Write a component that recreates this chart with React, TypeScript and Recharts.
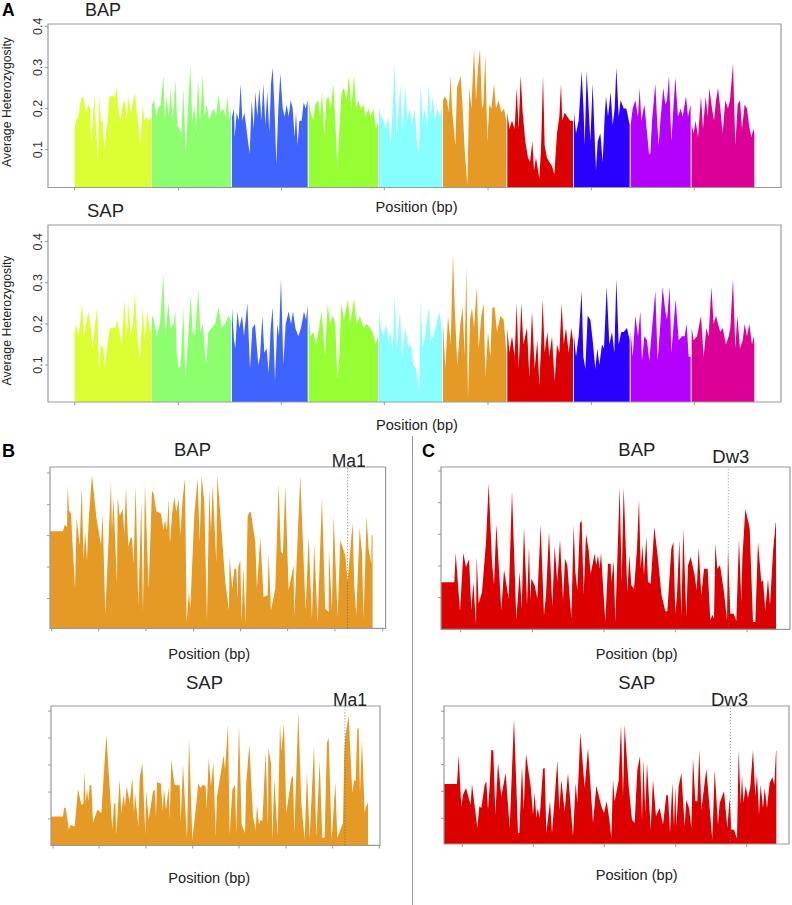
import React from "react";
import { ComposedChart, Area, XAxis, YAxis, ReferenceArea, ReferenceLine } from "recharts";

const chromColors = ["#DCFF33", "#8DFF6E", "#3E63FF", "#95FF33", "#88FFFF", "#E69A26", "#DC0000", "#2A00FF", "#B400FF", "#DC0096"];
const genomeTicks = [224, 535, 844, 1153, 1464, 1774, 2083];
const hetTicks = [0.1, 0.2, 0.3, 0.4];

const bapChr1 = [[224,.15],[228,.17],[235,.18],[240,.21],[246,.23],[252,.22],[258,.19],[265,.21],[270,.2],[274,.12],[278,.17],[284,.235],[288,.15],[294,.07],[297,.23],[303,.17],[308,.17],[313,.1],[318,.14],[323,.17],[328,.23],[345,.23],[350,.25],[355,.2],[362,.17],[368,.21],[375,.22],[380,.17],[386,.23],[392,.19],[397,.21],[405,.24],[410,.19],[415,.16],[421,.11],[428,.21],[433,.17],[440,.18],[446,.17],[454,.18]];
const bapChr2 = [[456,.21],[462,.22],[468,.18],[475,.2],[482,.21],[490,.28],[495,.17],[500,.23],[506,.18],[512,.25],[518,.17],[526,.27],[532,.16],[538,.15],[544,.14],[550,.25],[557,.09],[562,.17],[571,.305],[577,.17],[583,.21],[588,.14],[594,.275],[600,.17],[608,.28],[614,.18],[620,.21],[628,.17],[635,.19],[642,.2],[648,.18],[656,.235],[662,.19],[670,.2],[676,.18],[682,.23],[688,.17],[693,.2]];
const bapChr3 = [[696,.18],[702,.2],[704,.13],[710,.19],[716,.17],[722,.26],[727,.17],[733,.19],[738,.16],[744,.12],[749,.09],[755,.22],[761,.15],[766,.24],[772,.18],[778,.25],[784,.17],[790,.26],[796,.16],[802,.24],[808,.14],[813,.26],[818,.3],[824,.19],[829,.065],[835,.2],[841,.285],[848,.2],[854,.18],[860,.21],[866,.18],[872,.22],[878,.2],[884,.13],[888,.19],[893,.11],[898,.17],[905,.17],[911,.215],[917,.2],[923,.22]];
const bapChr4 = [[926,.22],[932,.19],[940,.17],[946,.21],[955,.22],[960,.18],[966,.24],[973,.13],[979,.22],[985,.23],[992,.2],[1000,.26],[1006,.17],[1012,.055],[1018,.15],[1025,.24],[1032,.25],[1040,.22],[1047,.28],[1054,.2],[1062,.28],[1068,.2],[1075,.22],[1082,.2],[1090,.21],[1097,.18],[1105,.2],[1112,.18],[1120,.2],[1128,.15],[1134,.17]];
const bapChr5 = [[1137,.2],[1143,.18],[1150,.17],[1158,.15],[1165,.18],[1172,.11],[1178,.2],[1184,.31],[1190,.13],[1196,.2],[1201,.26],[1207,.14],[1216,.25],[1222,.17],[1230,.2],[1236,.16],[1244,.2],[1250,.13],[1254,.09],[1258,.12],[1262,.26],[1268,.17],[1275,.2],[1281,.15],[1286,.26],[1292,.18],[1298,.23],[1305,.17],[1312,.2],[1320,.18],[1326,.21]];
const bapChr6 = [[1329,.22],[1334,.23],[1341,.22],[1346,.19],[1352,.28],[1356,.2],[1366,.11],[1371,.25],[1382,.28],[1388,.2],[1394,.1],[1402,.015],[1408,.25],[1414,.2],[1422,.345],[1428,.22],[1434,.3],[1440,.345],[1446,.2],[1450,.21],[1456,.33],[1462,.12],[1468,.21],[1474,.2],[1482,.26],[1488,.2],[1496,.22],[1504,.19],[1512,.2],[1519,.17]];
const bapChr7 = [[1522,.19],[1528,.15],[1536,.17],[1544,.15],[1550,.25],[1556,.15],[1562,.28],[1568,.19],[1576,.12],[1584,.08],[1590,.07],[1597,.12],[1602,.05],[1608,.08],[1614,.05],[1618,.03],[1623,.1],[1629,.28],[1634,.11],[1641,.08],[1648,.07],[1656,.06],[1663,.04],[1671,.14],[1678,.18],[1683,.26],[1687,.17],[1694,.19],[1702,.18],[1710,.17],[1719,.17]];
const bapChr8 = [[1722,.19],[1728,.14],[1736,.17],[1745,.29],[1751,.19],[1754,.11],[1760,.29],[1766,.2],[1771,.12],[1778,.26],[1783,.15],[1788,.05],[1793,.12],[1801,.14],[1808,.07],[1814,.18],[1818,.23],[1824,.18],[1832,.24],[1838,.16],[1844,.2],[1849,.3],[1856,.18],[1862,.22],[1871,.2],[1879,.2],[1884,.18],[1889,.16]];
const bapChr9 = [[1892,.16],[1898,.2],[1906,.22],[1914,.18],[1919,.25],[1924,.17],[1933,.21],[1939,.16],[1947,.09],[1951,.09],[1956,.17],[1966,.26],[1972,.16],[1976,.11],[1982,.18],[1990,.25],[1996,.21],[2001,.22],[2007,.28],[2014,.12],[2020,.2],[2026,.275],[2034,.18],[2042,.2],[2048,.18],[2058,.23],[2064,.18],[2072,.21]];
const bapChr10 = [[2075,.16],[2081,.14],[2087,.17],[2094,.13],[2103,.23],[2109,.15],[2117,.23],[2123,.18],[2128,.25],[2136,.2],[2142,.17],[2148,.22],[2154,.25],[2161,.2],[2168,.14],[2176,.22],[2184,.2],[2190,.22],[2199,.31],[2206,.11],[2213,.21],[2220,.22],[2226,.15],[2234,.21],[2241,.2],[2247,.16],[2254,.13],[2260,.15],[2263,.14]];

const sapChr1 = [[224,.18],[228,.2],[235,.17],[240,.2],[246,.25],[252,.17],[258,.2],[265,.23],[272,.19],[278,.14],[285,.2],[292,.24],[297,.09],[303,.15],[310,.14],[315,.09],[322,.15],[330,.19],[345,.19],[351,.21],[358,.18],[365,.15],[373,.26],[380,.17],[386,.25],[392,.17],[398,.2],[405,.275],[412,.17],[419,.11],[428,.24],[434,.16],[442,.23],[450,.18],[454,.2]];
const sapChr2 = [[456,.22],[462,.21],[470,.17],[480,.2],[490,.32],[496,.17],[505,.25],[512,.19],[520,.2],[526,.23],[530,.13],[536,.09],[542,.1],[550,.24],[556,.07],[562,.14],[572,.27],[578,.18],[585,.17],[595,.285],[601,.18],[608,.2],[618,.1],[625,.18],[635,.19],[645,.2],[656,.24],[665,.19],[675,.2],[685,.22],[693,.21]];
const sapChr3 = [[696,.24],[702,.16],[706,.14],[712,.23],[718,.19],[726,.22],[732,.17],[742,.25],[750,.09],[757,.19],[765,.2],[775,.1],[780,.12],[787,.22],[793,.13],[800,.14],[806,.08],[812,.19],[818,.24],[825,.06],[832,.2],[837,.17],[843,.31],[850,.1],[857,.2],[866,.23],[873,.2],[879,.23],[886,.19],[895,.17],[903,.19],[912,.23],[918,.21],[923,.245]];
const sapChr4 = [[926,.22],[932,.17],[940,.18],[948,.15],[955,.18],[965,.23],[975,.12],[983,.25],[990,.2],[998,.22],[1006,.2],[1012,.065],[1018,.12],[1024,.25],[1032,.21],[1044,.26],[1050,.2],[1062,.26],[1070,.2],[1080,.22],[1090,.19],[1100,.2],[1110,.19],[1118,.18],[1127,.15],[1134,.17]];
const sapChr5 = [[1137,.23],[1143,.19],[1150,.17],[1158,.2],[1165,.16],[1172,.18],[1178,.13],[1184,.27],[1190,.14],[1200,.23],[1206,.12],[1216,.19],[1225,.14],[1232,.15],[1240,.1],[1248,.09],[1258,.035],[1262,.26],[1268,.14],[1275,.17],[1286,.24],[1292,.16],[1300,.17],[1310,.2],[1318,.23],[1326,.18]];
const sapChr6 = [[1329,.2],[1336,.09],[1344,.22],[1352,.15],[1359,.37],[1364,.24],[1372,.1],[1381,.2],[1388,.24],[1394,.12],[1399,.34],[1404,.02],[1410,.21],[1416,.24],[1422,.19],[1430,.29],[1436,.14],[1444,.22],[1451,.25],[1456,.07],[1464,.18],[1471,.12],[1477,.24],[1484,.24],[1491,.18],[1501,.22],[1511,.21],[1519,.13]];
const sapChr7 = [[1522,.19],[1528,.13],[1536,.17],[1544,.12],[1550,.25],[1556,.09],[1564,.25],[1570,.15],[1581,.19],[1588,.07],[1596,.23],[1604,.09],[1612,.16],[1618,.05],[1624,.16],[1628,.26],[1634,.13],[1642,.18],[1648,.12],[1656,.17],[1664,.06],[1671,.15],[1678,.13],[1685,.25],[1691,.15],[1698,.19],[1706,.13],[1714,.19],[1719,.16]];
const sapChr8 = [[1722,.17],[1728,.12],[1736,.17],[1745,.28],[1750,.12],[1756,.09],[1763,.22],[1771,.21],[1778,.16],[1786,.09],[1792,.14],[1798,.1],[1806,.15],[1812,.14],[1820,.29],[1828,.15],[1836,.18],[1843,.13],[1849,.31],[1856,.15],[1864,.18],[1871,.18],[1881,.19],[1889,.16]];
const sapChr9 = [[1892,.18],[1898,.12],[1906,.22],[1914,.17],[1921,.23],[1926,.11],[1933,.17],[1941,.16],[1948,.11],[1954,.17],[1966,.28],[1973,.11],[1981,.2],[1988,.29],[1996,.23],[2001,.21],[2009,.29],[2014,.13],[2021,.2],[2027,.26],[2036,.16],[2046,.17],[2054,.17],[2060,.2],[2066,.12],[2072,.12]];
const sapChr10 = [[2075,.19],[2081,.16],[2091,.17],[2103,.22],[2111,.12],[2119,.19],[2126,.17],[2134,.29],[2141,.2],[2148,.22],[2154,.2],[2161,.18],[2168,.19],[2178,.15],[2186,.17],[2191,.19],[2199,.31],[2206,.14],[2212,.22],[2220,.14],[2228,.16],[2234,.2],[2241,.17],[2248,.2],[2256,.15],[2261,.17],[2263,.15]];

const ma1Bap = [[149,291],[188,291],[193,311],[200,304],[202,429],[206,354],[212,344],[224,119],[229,331],[238,249],[244,424],[250,204],[254,291],[260,204],[265,324],[275,459],[288,334],[302,249],[307,344],[315,44],[332,439],[335,289],[339,394],[344,279],[350,134],[352,394],[358,339],[362,344],[367,359],[372,284],[377,424],[384,244],[390,269],[395,274],[400,194],[406,429],[414,69],[423,379],[428,49],[434,432],[445,119],[455,414],[460,404],[468,351],[482,344],[490,294],[494,324],[500,294],[505,389],[509,254],[515,339],[522,394],[528,349],[535,389],[540,279],[547,389],[554,449],[559,19],[566,109],[570,59],[575,179],[582,339],[592,451],[598,259],[604,459],[612,379],[620,24],[627,414],[632,289],[637,431],[648,199],[651,459],[660,344],[675,139],[686,54],[688,214],[696,119],[702,179],[708,179],[712,89],[714,184],[720,204],[724,19],[729,184],[736,14],[742,334],[747,349],[752,347],[765,259],[770,119],[780,274],[790,94],[802,99],[805,224],[812,54],[825,119],[835,434],[842,229],[848,224],[855,429],[865,114],[880,189],[882,34],[900,457],[916,54],[925,274],[935,29],[942,249],[952,19],[965,394],[975,59],[985,49],[986,239],[995,54],[1000,341],[1012,34],[1020,264],[1035,219],[1042,139],[1057,317],[1062,129],[1068,39],[1078,301],[1085,229],[1090,29],[1099,337],[1105,239],[1113,194],[1114,279],[1117,279]];
const ma1Sap = [[154,87],[190,87],[193,113],[198,112],[208,47],[212,62],[225,57],[235,169],[245,122],[251,124],[254,222],[258,127],[262,169],[266,132],[270,182],[275,180],[280,69],[293,107],[305,97],[320,332],[338,47],[343,127],[347,124],[350,32],[360,200],[365,97],[372,152],[376,117],[381,177],[390,127],[398,202],[403,97],[406,157],[412,97],[416,57],[420,202],[428,247],[437,32],[439,167],[447,77],[460,162],[465,167],[469,87],[472,190],[484,185],[489,102],[493,170],[499,107],[507,174],[510,77],[515,259],[521,207],[525,182],[530,180],[540,180],[543,67],[550,242],[556,127],[562,22],[568,322],[578,17],[590,127],[596,187],[602,172],[610,182],[618,177],[621,107],[627,262],[634,177],[641,250],[648,27],[652,147],[672,270],[676,227],[685,364],[690,32],[698,167],[706,182],[710,37],[718,362],[726,62],[736,37],[740,192],[749,302],[760,87],[768,47],[772,120],[778,62],[782,77],[788,72],[798,280],[805,57],[806,292],[814,247],[818,17],[824,199],[834,27],[841,362],[845,282],[853,367],[860,97],[875,202],[880,207],[884,37],[896,399],[905,127],[915,17],[922,220],[930,22],[943,299],[950,27],[960,254],[968,22],[975,24],[982,309],[987,322],[996,17],[1007,189],[1013,22],[1030,67],[1034,282],[1037,327],[1040,347],[1047,389],[1058,157],[1064,197],[1068,192],[1073,349],[1077,352],[1081,157],[1087,317],[1095,97],[1098,112],[1105,129]];
const dw3Bap = [[109,141],[149,141],[153,229],[158,162],[166,54],[176,229],[184,187],[193,210],[200,57],[206,142],[214,14],[216,219],[222,77],[232,112],[244,262],[252,437],[262,202],[268,132],[275,315],[290,57],[298,179],[312,92],[322,415],[335,30],[345,172],[351,62],[358,307],[367,72],[373,249],[377,87],[380,152],[390,132],[398,92],[408,314],[418,42],[424,102],[433,292],[443,67],[450,249],[458,142],[466,270],[475,87],[481,212],[488,192],[500,32],[507,312],[512,172],[518,117],[526,320],[531,324],[537,104],[544,287],[552,237],[558,167],[570,227],[575,192],[580,222],[585,182],[589,230],[602,22],[610,197],[618,197],[620,142],[627,204],[632,22],[645,427],[651,142],[657,427],[668,112],[674,222],[680,132],[688,122],[697,242],[703,390],[708,182],[713,252],[718,162],[725,277],[730,142],[738,137],[749,307],[760,212],[770,107],[782,54],[788,54],[800,242],[806,262],[812,47],[817,102],[824,267],[830,42],[836,302],[845,37],[850,192],[858,217],[870,162],[876,117],[882,245],[890,102],[898,182],[909,182],[917,27],[923,44],[928,32],[932,257],[938,182],[946,192],[958,112],[967,27],[970,242],[977,47],[987,47],[995,25],[1003,272],[1010,82],[1013,212],[1022,362],[1035,304],[1045,22],[1052,22],[1060,262],[1070,142],[1075,147],[1082,57],[1090,152],[1096,72],[1105,232],[1113,320],[1114,320]];
const dw3Sap = [[118,180],[157,180],[162,266],[170,111],[175,148],[184,168],[198,118],[202,180],[218,48],[224,113],[230,108],[240,178],[245,188],[250,103],[255,173],[260,283],[266,280],[272,88],[280,243],[290,143],[303,213],[315,48],[328,375],[340,33],[344,33],[352,233],[357,103],[364,270],[378,173],[385,88],[390,153],[395,78],[399,108],[405,78],[415,226],[420,228],[425,33],[436,128],[442,33],[449,123],[458,251],[464,103],[470,193],[480,98],[490,213],[505,23],[513,183],[518,123],[527,333],[540,168],[550,288],[565,63],[575,175],[590,113],[598,93],[606,128],[614,73],[620,18],[625,193],[630,128],[642,190],[649,358],[655,143],[660,358],[672,173],[682,73],[690,63],[698,223],[706,263],[712,73],[716,253],[722,93],[727,243],[738,43],[745,193],[754,83],[765,108],[775,58],[785,148],[790,145],[796,33],[803,183],[808,53],[812,171],[815,53],[822,173],[830,213],[840,53],[845,133],[853,108],[860,48],[865,258],[872,128],[878,128],[884,283],[890,103],[905,225],[923,13],[930,221],[940,58],[945,123],[958,158],[968,48],[975,138],[980,43],[988,43],[997,16],[1002,283],[1008,118],[1012,208],[1016,123],[1023,173],[1030,138],[1037,173],[1045,283],[1052,143],[1057,208],[1063,88],[1068,178],[1075,108],[1080,168],[1087,108],[1095,183],[1103,200],[1109,178],[1114,280],[1115,280]];

const bapGenome = [bapChr1, bapChr2, bapChr3, bapChr4, bapChr5, bapChr6, bapChr7, bapChr8, bapChr9, bapChr10];
const sapGenome = [sapChr1, sapChr2, sapChr3, sapChr4, sapChr5, sapChr6, sapChr7, sapChr8, sapChr9, sapChr10];

const rows = (pairs: number[][]) => pairs.map(([x, y]) => ({ x, y }));
const FONT = "'Liberation Sans', Arial, sans-serif";
const GRAY = "#9a9a9a";

const RotTick = ({ x, y, payload }: any) => (
  <text x={x} y={y} transform={`rotate(-90 ${x} ${y})`} textAnchor="middle" fontFamily={FONT} fontSize={12.5} fill="#333">
    {payload.value}
  </text>
);
const NoLabel = () => <g />;

type PanelProps = {
  box: number[];
  xDomain: number[];
  yDomain: number[];
  xTicks: number[];
  yTicks: number[];
  series: { data: number[][]; color: string }[];
  marker?: number;
  markerColor?: string;
  labelled?: boolean;
};

function Panel({ box, xDomain, yDomain, xTicks, yTicks, series, marker, markerColor, labelled }: PanelProps) {
  const [l, t, r, b] = box;
  const yw = 30;
  const pad = 12;
  const w = r - l + yw + 2;
  const h = b - t + pad + 8;
  return (
    <div style={{ position: "absolute", left: l - yw, top: t - pad }}>
      <ComposedChart width={w} height={h} margin={{ top: pad, right: 2, left: 0, bottom: 0 }}>
        <XAxis dataKey="x" type="number" domain={xDomain} ticks={xTicks} interval={0} allowDataOverflow height={8}
          axisLine={false} tickSize={3} tickLine={{ stroke: GRAY }} tick={<NoLabel />} />
        <YAxis type="number" domain={yDomain} ticks={yTicks} interval={0} allowDataOverflow width={yw}
          axisLine={false} tickSize={3} tickMargin={3} tickLine={{ stroke: GRAY }} tick={labelled ? <RotTick /> : <NoLabel />} />
        {series.map((s, i) => (
          <Area key={i} data={rows(s.data)} dataKey="y" type="linear" stroke="none" fill={s.color} fillOpacity={1} isAnimationActive={false} dot={false} activeDot={false} />
        ))}
        <ReferenceArea x1={xDomain[0]} x2={xDomain[1]} y1={yDomain[0]} y2={yDomain[1]} fill="none" fillOpacity={0} stroke={GRAY} strokeWidth={1.2} ifOverflow="visible" />
        {marker !== undefined && (
          <ReferenceLine x={marker} stroke={markerColor} strokeWidth={0.8} strokeDasharray="1 2" />
        )}
      </ComposedChart>
    </div>
  );
}

const labels: [string, number, number, number, boolean?][] = [
  ["A", 2, 16, 17.5, true], ["B", 2, 457, 18, true], ["C", 422, 457, 18, true],
  ["BAP", 85, 16.3, 18], ["SAP", 87, 217, 18.5],
  ["Position (bp)", 375.6, 212, 14.6], ["Position (bp)", 376, 430, 14.6],
  ["BAP", 174, 455.7, 18.5], ["Ma1", 331.7, 466.7, 17.5], ["Position (bp)", 168.3, 659, 14.6],
  ["SAP", 186, 689, 18.5], ["Ma1", 333, 705.7, 17.5], ["Position (bp)", 168.3, 883, 14.6],
  ["BAP", 618.3, 455.7, 18.5], ["Dw3", 712.3, 463, 18.5], ["Position (bp)", 595.7, 659, 14.6],
  ["SAP", 618.3, 689.3, 18.5], ["Dw3", 711, 705.7, 18.5], ["Position (bp)", 595.7, 880, 14.6],
];

export default function App() {
  return (
    <div style={{ position: "absolute", left: 0, top: 0, width: 792, height: 905, background: "#fff", overflow: "hidden" }}>
      <Panel box={[48, 24, 781, 187.5]} xDomain={[144, 2343]} yDomain={[0.0078, 0.4056]} xTicks={genomeTicks} yTicks={hetTicks} labelled
        series={bapGenome.map((d, i) => ({ data: d, color: chromColors[i] }))} />
      <Panel box={[48, 225.3, 781, 402.3]} xDomain={[144, 2343]} yDomain={[0.01, 0.4406]} xTicks={genomeTicks} yTicks={hetTicks} labelled
        series={sapGenome.map((d, i) => ({ data: d, color: chromColors[i] }))} />
      <Panel box={[49.7, 466.7, 385.3, 628]} xDomain={[149, 1156]} yDomain={[0, 484]} xTicks={[154, 295, 437, 580, 721, 862, 1004, 1147]} yTicks={[89, 184, 278, 371, 466]}
        series={[{ data: ma1Bap, color: chromColors[5] }]} marker={1042} markerColor="#555" />
      <Panel box={[51.3, 706.3, 380.3, 845.7]} xDomain={[154, 1141]} yDomain={[0, 418]} xTicks={[160, 298, 439, 579, 718, 859, 999, 1139]} yTicks={[79, 160, 241, 322, 403]}
        series={[{ data: ma1Sap, color: chromColors[5] }]} marker={1036} markerColor="#555" />
      <Panel box={[441.3, 466.7, 790.3, 629]} xDomain={[109, 1156]} yDomain={[0, 487]} xTicks={[168, 383, 598, 812, 1027]} yTicks={[95, 190, 285, 380, 475]}
        series={[{ data: dw3Bap, color: chromColors[6] }]} marker={971} markerColor="#777" />
      <Panel box={[444.3, 706.3, 789.3, 844.3]} xDomain={[118, 1153]} yDomain={[0, 414]} xTicks={[173, 386, 599, 813, 1026]} yTicks={[77, 158, 238, 318, 398]}
        series={[{ data: dw3Sap, color: chromColors[6] }]} marker={977} markerColor="#777" />
      <svg width={792} height={905} style={{ position: "absolute", left: 0, top: 0, pointerEvents: "none" }}>
        <line x1={412.5} y1={436} x2={412.5} y2={905} stroke={GRAY} strokeWidth={1} />
        <text x={11} y={102} transform="rotate(-90 11 102)" textAnchor="middle" fontFamily={FONT} fontSize={12.25} fill="#222">Average Heterozygosity</text>
        <text x={11} y={320.5} transform="rotate(-90 11 320.5)" textAnchor="middle" fontFamily={FONT} fontSize={12.25} fill="#222">Average Heterozygosity</text>
        {labels.map(([s, x, y, size, bold], i) => (
          <text key={i} x={x} y={y} fontFamily={FONT} fontSize={size} fontWeight={bold ? 700 : 400} fill={bold ? "#000" : "#222"}>{s}</text>
        ))}
      </svg>
    </div>
  );
}
